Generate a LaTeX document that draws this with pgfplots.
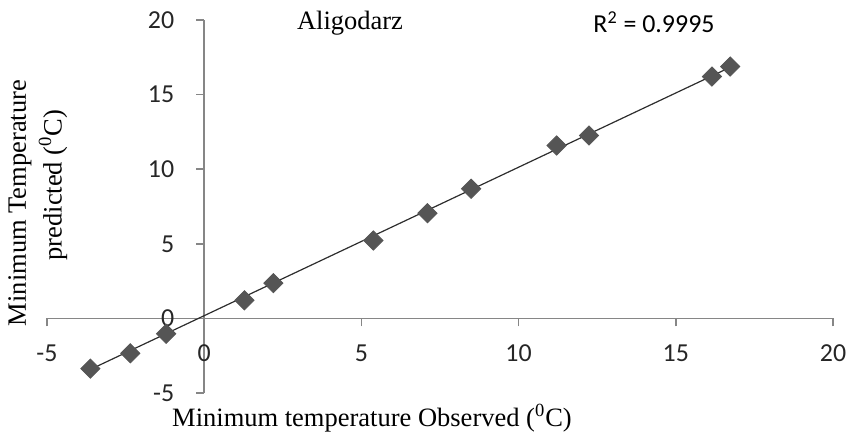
\documentclass[border=0pt]{standalone}
\usepackage{fontspec}
\setmainfont{Liberation Serif}
\newfontfamily\carlito{Carlito}
\usepackage{pgfplots}
\pgfplotsset{compat=1.18}

\definecolor{axgray}{RGB}{134,134,134}
\definecolor{markgray}{RGB}{85,85,85}
\definecolor{trendgray}{RGB}{45,45,45}

\begin{document}
\begin{tikzpicture}[x=1bp,y=1bp]
\path[use as bounding box] (0,0) rectangle (425,216);
\begin{axis}[
    at={(23.5bp,19.5bp)}, anchor=south west,
    scale only axis, width=393bp, height=186.5bp,
    xmin=-5, xmax=20, ymin=-5, ymax=20,
    axis lines=middle,
    every inner x axis line/.append style={-},
    every inner y axis line/.append style={-},
    axis line style={axgray, line width=0.75bp},
    hide obscured x ticks=false, hide obscured y ticks=false,
    xtick={-5,0,5,10,15,20}, xticklabels={-5,0,5,10,15,20},
    ytick={-5,0,5,10,15,20}, yticklabels={-5,0,5,10,15,20},
    tick align=outside, major tick length=4bp,
    tick style={axgray, line width=0.75bp},
    tick label style={font=\carlito\fontsize{13}{15}\selectfont, text=black!85},
    xticklabel style={yshift=-5.5bp},
    yticklabel style={xshift=-7.5bp},
    clip=false,
]
% trend line
\addplot[trendgray, line width=0.6bp] coordinates {(-3.62,-3.42) (16.73,16.83)};
% observed vs predicted
\addplot[only marks, mark=square*, mark size=3.4bp,
    mark options={rotate=45, fill=markgray, draw=markgray}] coordinates {
    (-3.62,-3.37) (-2.35,-2.34) (-1.21,-1.03) (1.28,1.21) (2.20,2.36)
    (5.38,5.22) (7.10,7.05) (8.49,8.69) (11.21,11.59) (12.24,12.26)
    (16.15,16.21) (16.73,16.88)
};
\end{axis}
\node[font=\fontsize{13.3}{16}\selectfont] at (175,204.5) {Aligodarz};
\node[font=\carlito\fontsize{13}{15}\selectfont] at (327,205) {R\textsuperscript{2} = 0.9995};
\node[font=\fontsize{13.3}{16}\selectfont] at (186,7) {Minimum temperature Observed (\textsuperscript{0}C)};
\node[font=\fontsize{13.3}{16}\selectfont, rotate=90] at (10,114.5) {Minimum Temperature};
\node[font=\fontsize{13.3}{16}\selectfont, rotate=90] at (26.5,123.5) {predicted (\textsuperscript{0}C)};
\end{tikzpicture}
\end{document}
